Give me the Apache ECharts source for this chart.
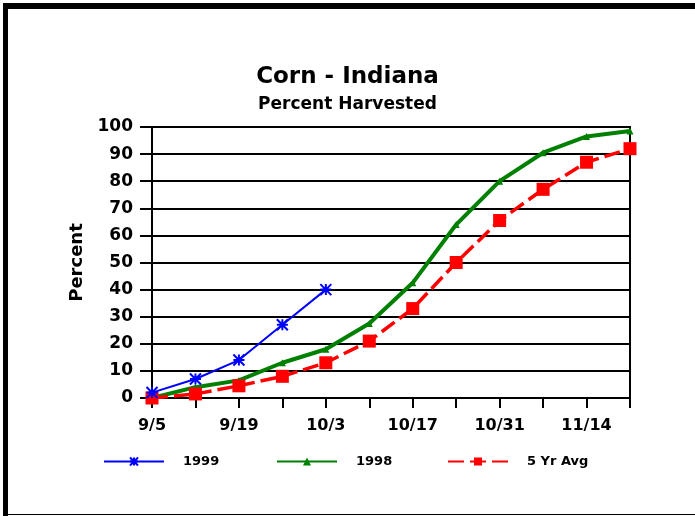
<!DOCTYPE html>
<html>
<head>
<meta charset="utf-8">
<script src="https://cdn.jsdelivr.net/npm/echarts@6/dist/echarts.min.js"></script>
<style>html,body{margin:0;padding:0;background:#fff}#c{width:695px;height:516px}</style>
</head>
<body>
<div id="c"></div>
<script>
const categories = ['9/5','9/12','9/19','9/26','10/3','10/10','10/17','10/24','10/31','11/7','11/14','11/21'];
const s1999 = [2, 7, 14, 27, 40];
const s1998 = [0, 4, 6.5, 13, 18, 27.5, 42.5, 64, 80, 90.5, 96.5, 98.5];
const avg5 = [0, 1.5, 4.5, 8, 13, 21, 33, 50, 65.5, 77, 87, 92];
const yTicks = [0, 10, 20, 30, 40, 50, 60, 70, 80, 90, 100];
const seriesNames = ['1999', '1998', '5 Yr Avg'];

const FONT = 'DejaVu Sans';
const chart = echarts.init(document.getElementById('c'), null, {renderer: 'canvas'});
const legendBase = {
  top: 455, itemWidth: 60, itemHeight: 10, itemGap: 0, padding: 0,
  textStyle: {fontFamily: FONT, fontWeight: 'bold', fontSize: 13, color: '#000', padding: [0, 0, 0, 14]}
};
chart.setOption({
  animation: false,
  backgroundColor: '#fff',
  title: [
    {text: 'Corn - Indiana', left: 'center', top: 61, textStyle: {fontFamily: FONT, fontWeight: 'bold', fontSize: 23, color: '#000'}},
    {text: 'Percent Harvested', left: 'center', top: 91, textStyle: {fontFamily: FONT, fontWeight: 'bold', fontSize: 17, color: '#000'}}
  ],
  legend: [
    Object.assign({}, legendBase, {left: 103, data: [seriesNames[0]]}),
    Object.assign({}, legendBase, {left: 276, data: [seriesNames[1]]}),
    Object.assign({}, legendBase, {left: 447, data: [seriesNames[2]]})
  ],
  grid: {left: 152, right: 65, top: 127, bottom: 118, show: true, borderColor: '#000', borderWidth: 2, backgroundColor: 'transparent'},
  xAxis: {
    type: 'category', data: categories, boundaryGap: false,
    axisLine: {lineStyle: {color: '#000', width: 2}},
    axisTick: {show: true, interval: 0, length: 10, lineStyle: {color: '#000', width: 2}},
    axisLabel: {interval: 1, margin: 20, fontFamily: FONT, fontWeight: 'bold', fontSize: 16, color: '#000'},
    splitLine: {show: false}
  },
  yAxis: {
    type: 'value', min: yTicks[0], max: yTicks[yTicks.length - 1], interval: 10,
    name: 'Percent', nameLocation: 'middle', nameGap: 66, nameRotate: 90,
    nameTextStyle: {fontFamily: FONT, fontWeight: 'bold', fontSize: 18, color: '#000'},
    axisLine: {show: true, lineStyle: {color: '#000', width: 2}},
    axisTick: {show: true, length: 12, lineStyle: {color: '#000', width: 2}},
    axisLabel: {margin: 19, fontFamily: FONT, fontWeight: 'bold', fontSize: 17, color: '#000'},
    splitLine: {show: true, lineStyle: {color: '#000', width: 2}}
  },
  series: [
    {
      name: seriesNames[0], type: 'line', data: s1999, z: 5,
      symbol: 'path://M0,0L10,10M10,0L0,10M0,5L10,5M5,0L5,10', symbolSize: 11, showSymbol: true,
      lineStyle: {color: '#0000ff', width: 2},
      itemStyle: {color: 'rgba(0,0,0,0)', borderColor: '#0000ff', borderWidth: 2}
    },
    {
      name: seriesNames[1], type: 'line', data: s1998, z: 3,
      symbol: 'triangle', symbolSize: 7,
      lineStyle: {color: '#008000', width: 4},
      itemStyle: {color: '#008000'}
    },
    {
      name: seriesNames[2], type: 'line', data: avg5, z: 4,
      symbol: 'rect', symbolSize: 13,
      lineStyle: {color: '#ff0000', width: 3.5, type: [16, 6]},
      itemStyle: {color: '#ff0000'}
    }
  ],
  graphic: [
    {type: 'rect', left: 3, top: 3, shape: {width: 692, height: 6}, style: {fill: '#000'}, silent: true},
    {type: 'rect', left: 3, top: 3, shape: {width: 5, height: 513}, style: {fill: '#000'}, silent: true},
    {type: 'rect', left: 3, top: 514, shape: {width: 692, height: 1}, style: {fill: '#000'}, silent: true}
  ]
});
</script>
</body>
</html>
